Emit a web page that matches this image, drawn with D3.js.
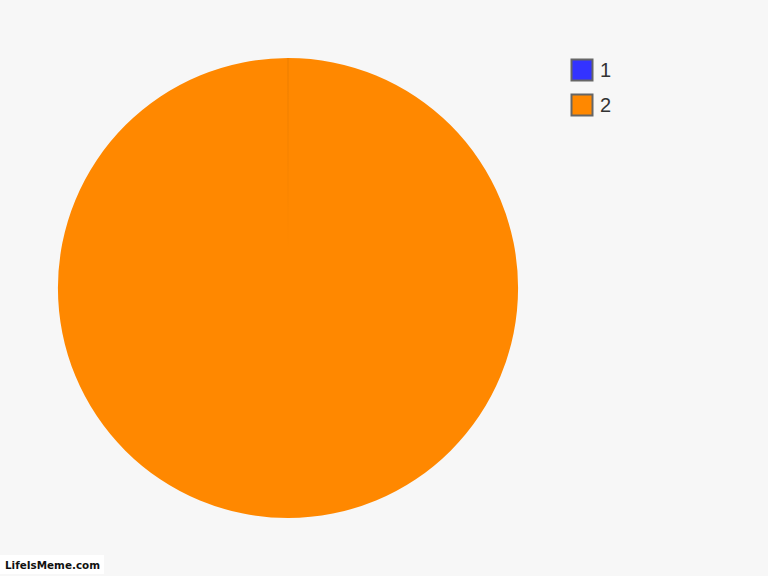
<!DOCTYPE html>
<html><head><meta charset="utf-8">
<script src="https://cdn.jsdelivr.net/npm/d3@7"></script>
<style>html,body{margin:0;padding:0;background:#f7f7f7;}svg{display:block;}</style>
</head><body>
<svg id="c" width="768" height="576"></svg>
<script>
const categories = ["1", "2"];
const values = [0, 1];
const colors = ["#3333ff", "#ff8800"];

const svg = d3.select("#c");
svg.append("rect").attr("width", 768).attr("height", 576).attr("fill", "#f7f7f7");

const data = categories.map((c, i) => ({ label: c, value: values[i], color: colors[i] }));
const pie = d3.pie().sort(null).value(d => d.value);
const R = 230;
const arc = d3.arc().innerRadius(0).outerRadius(R);
const arcs = pie(data);

const g = svg.append("g").attr("transform", "translate(288,288)");
g.selectAll("path.slice").data(arcs).join("path").attr("class", "slice")
  .attr("d", arc)
  .attr("fill", d => d.data.color);

// slice boundary lines (faint, fading towards the centre)
const grad = svg.append("defs").append("linearGradient").attr("id", "fade")
  .attr("gradientUnits", "userSpaceOnUse").attr("x1", 0).attr("y1", -R).attr("x2", 0).attr("y2", 0);
grad.append("stop").attr("offset", "0").attr("stop-color", "#d97400").attr("stop-opacity", 0.55);
grad.append("stop").attr("offset", "0.85").attr("stop-color", "#d97400").attr("stop-opacity", 0);
g.selectAll("line.sep").data(arcs.filter(d => d.value === 0)).join("line").attr("class", "sep")
  .attr("x1", 0).attr("y1", 0)
  .attr("x2", d => d3.pointRadial(d.startAngle, R)[0])
  .attr("y2", d => d3.pointRadial(d.startAngle, R)[1])
  .attr("stroke", "url(#fade)").attr("stroke-width", 1);

const legend = svg.append("g").attr("transform", "translate(571,59)");
const item = legend.selectAll("g").data(data).join("g")
  .attr("transform", (d, i) => `translate(0,${i * 35})`);
item.append("rect").attr("x", 0.5).attr("y", 0.5).attr("width", 21).attr("height", 21)
  .attr("fill", d => d.color).attr("stroke", "#666").attr("stroke-width", 2);
item.append("text").attr("x", 29).attr("y", 18)
  .attr("font-family", "Liberation Sans, Arial, sans-serif").attr("font-size", 20)
  .attr("fill", "#333").text(d => d.label);

svg.append("rect").attr("x", 0).attr("y", 555).attr("width", 104).attr("height", 19).attr("fill", "#fff");
svg.append("text").attr("x", 5).attr("y", 569)
  .attr("font-family", "DejaVu Sans, sans-serif").attr("font-size", 11).attr("font-weight", "bold")
  .attr("textLength", 95).attr("lengthAdjust", "spacingAndGlyphs")
  .attr("fill", "#111").text("LifeIsMeme.com");
</script>
</body></html>
